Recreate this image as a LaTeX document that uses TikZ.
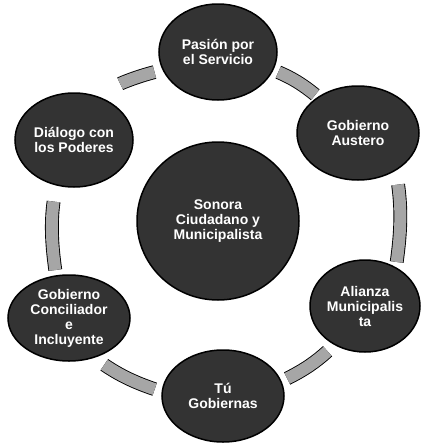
\documentclass[tikz,border=0pt]{standalone}
\usepackage{fontspec}
\setsansfont{Liberation Sans}
\usetikzlibrary{shapes.geometric}

\begin{document}
\begin{tikzpicture}[x=1pt, y=-1pt,
  font=\sffamily\bfseries\fontsize{14}{15}\selectfont,
  disc/.style={ellipse, draw=black, line width=1.5pt, fill=black!80, text=white, align=center, inner sep=0pt, outer sep=0pt},
  band/.style={draw=black, line width=0.9pt, double=black!35, double distance=12pt}]
\useasboundingbox (0,0) rectangle (423,445);
% Centre
\node[disc, minimum width=162pt, minimum height=158pt] (centro) at (218,221) {Sonora\\ Ciudadano y\\ Municipalista};
% Outer ring
\node[disc, minimum width=118pt, minimum height=96pt] (pasion) at (218,52) {Pasión por\\ el Servicio};
\node[disc, minimum width=122pt, minimum height=94pt] (austero) at (358,133) {Gobierno\\ Austero};
\node[disc, minimum width=110pt, minimum height=92pt] (alianza) at (365,306) {Alianza\\ Municipalis\\ ta};
\node[disc, minimum width=122pt, minimum height=92pt] (gobiernas) at (223,396) {Tú\\ Gobiernas};
\node[disc, minimum width=122pt, minimum height=86pt] (concil) at (69,318) {Gobierno\\ Conciliador\\ e\\ Incluyente};
\node[disc, minimum width=118pt, minimum height=94pt] (dialogo) at (74,140) {Diálogo con\\ los Poderes};
% Bands
\draw[band, shorten <=26pt, shorten >=9pt] (dialogo.61) to[bend left=8] (pasion.198);
\draw[band, shorten <=6pt, shorten >=4pt] (pasion.342) to[bend left=8] (austero.138);
\draw[band, shorten <=15pt, shorten >=6pt] (austero.316) to[bend left=8] (alianza.51);
\draw[band, shorten <=10pt, shorten >=7pt] (alianza.232) to[bend left=8] (gobiernas.14);
\draw[band, shorten <=8pt, shorten >=13pt] (gobiernas.176) to[bend left=8] (concil.302);
\draw[band, shorten <=6pt, shorten >=17pt] (concil.107) to[bend left=8] (dialogo.248);
\end{tikzpicture}
\end{document}
